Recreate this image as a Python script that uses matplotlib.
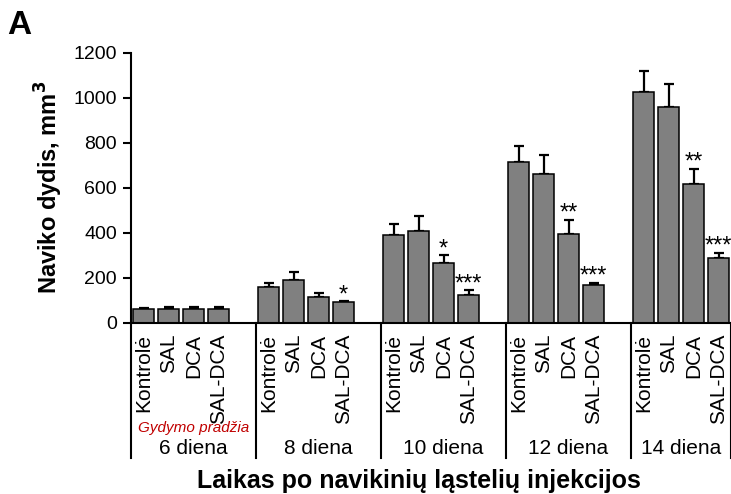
import numpy as np
import matplotlib
matplotlib.use("Agg")
import matplotlib.pyplot as plt

plt.rcParams['font.family'] = ['Liberation Sans', 'DejaVu Sans']

# Dati
dienos = ['6 diena', '8 diena', '10 diena', '12 diena', '14 diena']
grupes = ['Kontrolė', 'SAL', 'DCA', 'SAL-DCA']
vidurkiai = [
    [60, 63, 63, 63],
    [157, 190, 113, 91],
    [390, 406, 265, 123],
    [713, 661, 394, 166],
    [1027, 957, 615, 288],
]
paklaidos = [
    [5, 5, 5, 5],
    [21, 34, 19, 4],
    [47, 70, 34, 22],
    [74, 84, 64, 12],
    [90, 105, 69, 23],
]
zvaigzdes = [
    ['', '', '', ''],
    ['', '', '', '*'],
    ['', '', '*', '***'],
    ['', '', '**', '***'],
    ['', '', '**', '***'],
]

fig = plt.figure(figsize=(7.31, 4.94), dpi=100)
ax = fig.add_axes([131 / 731, 1 - 322.7 / 494, 600 / 731, 270 / 494])

# 5 vietos kiekvienai dienai (paskutinė tuščia), paskutinei dienai 4
x = []
for d in range(len(dienos)):
    for g in range(len(grupes)):
        x.append(d * 5 + g)
x = np.array(x)
y = np.array(vidurkiai).flatten()
err = np.array(paklaidos).flatten()

ax.bar(x, y, width=0.84, color='#808080', edgecolor='black', linewidth=1.1, zorder=2)
ax.errorbar(x, y, yerr=[np.zeros_like(err), err], fmt='none', ecolor='black',
            elinewidth=1.6, capsize=3.5, capthick=1.6, zorder=1)

for i, s in enumerate(np.array(zvaigzdes).flatten()):
    if s:
        ax.text(x[i], y[i] + err[i], s, ha='center', va='baseline', fontsize=17,
                clip_on=False)

ax.set_xlim(-0.5, 23.5)
ax.set_ylim(0, 1200)
ax.set_yticks(range(0, 1201, 200))
ax.set_xticks([])
ax.tick_params(axis='y', direction='out', length=6, width=1.5, labelsize=14, pad=4)
for sp in ['top', 'right']:
    ax.spines[sp].set_visible(False)
ax.spines['left'].set_linewidth(1.5)
ax.spines['bottom'].set_linewidth(1.5)
ax.set_ylabel('Naviko dydis, mm$^\\mathbf{3}$', fontsize=17, fontweight='bold', labelpad=6)

# apatinė lentelė su pavadinimais
ribos = [-0.5, 4.5, 9.5, 14.5, 19.5, 23.5]
for r in ribos:
    ax.plot([r, r], [0, -601], color='black', lw=1.5, clip_on=False)
for i in range(len(x)):
    ax.text(x[i], -50, grupes[i % 4], rotation=90, ha='center', va='top',
            fontsize=15, clip_on=False)
for d in range(len(dienos)):
    cx = (ribos[d] + ribos[d + 1]) / 2
    ax.text(cx, -557, dienos[d], ha='center', va='center', fontsize=15, clip_on=False)
ax.text((ribos[0] + ribos[1]) / 2, -468, 'Gydymo pradžia', ha='center', va='center',
        fontsize=11, style='italic', color='#c00000', clip_on=False)

fig.text(419 / 731, 1 - 481 / 494, 'Laikas po navikinių ląstelių injekcijos',
         ha='center', va='center', fontsize=18, fontweight='bold')
fig.text(7 / 731, 1 - 26 / 494, 'A', ha='left', va='center', fontsize=24, fontweight='bold')

fig.savefig('out.png', dpi=100)
